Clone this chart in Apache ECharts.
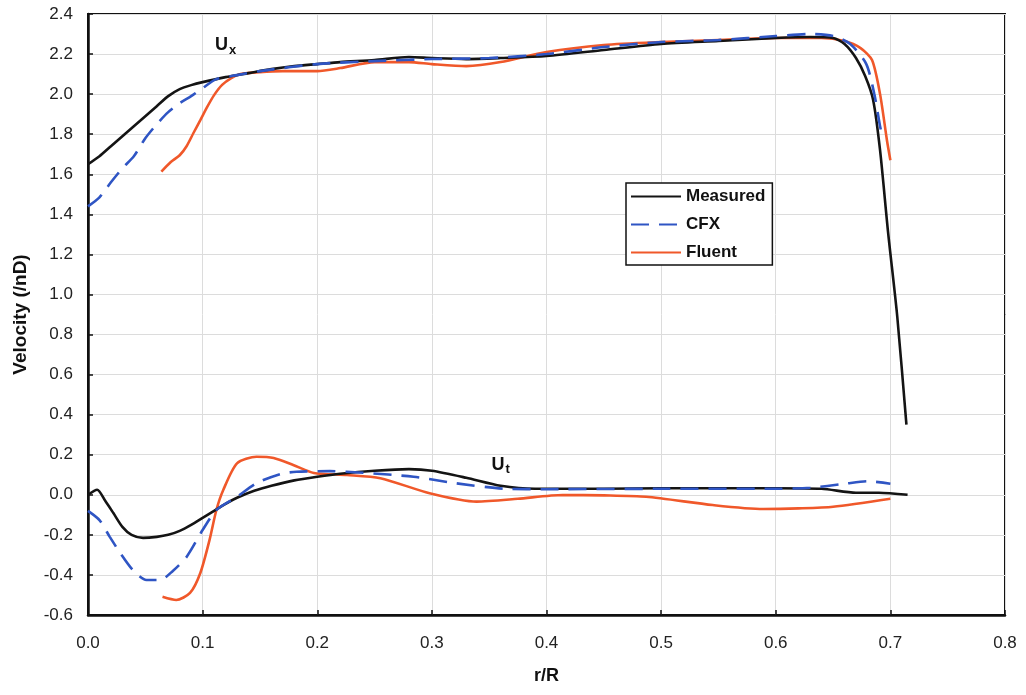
<!DOCTYPE html>
<html><head><meta charset="utf-8">
<script src="https://cdn.jsdelivr.net/npm/echarts@6/dist/echarts.min.js"></script>
<style>html,body{margin:0;padding:0;background:#fff}#c{width:1026px;height:695px}</style>
</head><body><div id="c"></div>
<script>
var xTicks = [0,0.1,0.2,0.3,0.4,0.5,0.6,0.7,0.8];
var yTicks = [-0.6,-0.4,-0.2,0,0.2,0.4,0.6,0.8,1.0,1.2,1.4,1.6,1.8,2.0,2.2,2.4];
var seriesNames = ['Measured','CFX','Fluent'];

var measuredUx = [[0,1.65],[0.01,1.69],[0.02,1.74],[0.03,1.79],[0.04,1.84],[0.05,1.89],[0.06,1.94],[0.07,1.99],[0.08,2.025],[0.09,2.045],[0.1,2.06],[0.12,2.085],[0.14,2.105],[0.16,2.125],[0.18,2.14],[0.2,2.15],[0.22,2.16],[0.25,2.17],[0.28,2.185],[0.3,2.18],[0.33,2.175],[0.36,2.18],[0.4,2.19],[0.45,2.22],[0.5,2.25],[0.55,2.265],[0.6,2.28],[0.63,2.285],[0.65,2.28],[0.66,2.25],[0.67,2.18],[0.678,2.09],[0.685,1.97],[0.691,1.72],[0.698,1.31],[0.706,0.89],[0.714,0.35]];
var cfxUx = [[0,1.44],[0.01,1.485],[0.02,1.56],[0.03,1.63],[0.04,1.69],[0.05,1.78],[0.06,1.85],[0.07,1.91],[0.08,1.955],[0.09,1.99],[0.1,2.03],[0.112,2.075],[0.13,2.095],[0.15,2.115],[0.2,2.15],[0.25,2.165],[0.3,2.175],[0.35,2.18],[0.4,2.2],[0.45,2.235],[0.5,2.26],[0.55,2.27],[0.6,2.29],[0.63,2.3],[0.65,2.29],[0.665,2.25],[0.679,2.15],[0.686,2.0],[0.691,1.84],[0.693,1.79]];
var fluentUx = [[0.064,1.613],[0.072,1.66],[0.08,1.695],[0.086,1.74],[0.092,1.806],[0.098,1.87],[0.104,1.936],[0.11,1.995],[0.117,2.046],[0.125,2.08],[0.133,2.1],[0.15,2.11],[0.17,2.115],[0.2,2.115],[0.22,2.13],[0.25,2.16],[0.28,2.16],[0.3,2.15],[0.33,2.14],[0.36,2.16],[0.4,2.21],[0.45,2.245],[0.5,2.26],[0.55,2.27],[0.6,2.28],[0.64,2.28],[0.66,2.265],[0.674,2.23],[0.684,2.17],[0.691,2.0],[0.697,1.77],[0.7,1.67]];
var measuredUt = [[0,0.0],[0.008,0.025],[0.015,-0.03],[0.022,-0.09],[0.03,-0.16],[0.038,-0.2],[0.048,-0.215],[0.06,-0.21],[0.07,-0.2],[0.08,-0.18],[0.09,-0.15],[0.1,-0.115],[0.11,-0.08],[0.12,-0.045],[0.13,-0.015],[0.145,0.02],[0.16,0.045],[0.18,0.072],[0.2,0.09],[0.22,0.105],[0.25,0.12],[0.28,0.128],[0.3,0.12],[0.33,0.085],[0.36,0.045],[0.39,0.03],[0.45,0.03],[0.5,0.033],[0.55,0.033],[0.6,0.033],[0.64,0.03],[0.67,0.01],[0.69,0.01],[0.715,0.0]];
var cfxUt = [[0,-0.08],[0.01,-0.126],[0.019,-0.21],[0.028,-0.29],[0.039,-0.375],[0.051,-0.425],[0.063,-0.425],[0.074,-0.38],[0.086,-0.31],[0.1,-0.176],[0.112,-0.076],[0.13,-0.01],[0.147,0.058],[0.168,0.104],[0.182,0.115],[0.211,0.118],[0.24,0.11],[0.284,0.09],[0.319,0.059],[0.365,0.03],[0.4,0.028],[0.5,0.03],[0.6,0.03],[0.63,0.035],[0.66,0.055],[0.68,0.068],[0.7,0.055]];
var fluentUt = [[0.065,-0.509],[0.077,-0.525],[0.089,-0.49],[0.098,-0.39],[0.106,-0.226],[0.112,-0.076],[0.118,0.024],[0.13,0.157],[0.147,0.19],[0.162,0.184],[0.179,0.149],[0.197,0.109],[0.226,0.099],[0.255,0.083],[0.298,0.008],[0.339,-0.034],[0.375,-0.02],[0.414,-0.001],[0.45,-0.003],[0.487,-0.01],[0.545,-0.051],[0.589,-0.071],[0.62,-0.068],[0.65,-0.06],[0.7,-0.02]];

var colors = {Measured:'#141414', CFX:'#2f55c4', Fluent:'#f0582a'};
var dashes = {Measured:'solid', CFX:[18,10], Fluent:'solid'};
var font = 'Liberation Sans, Arial, sans-serif';

function mk(name, data, label) {
  var s = {
    name: name, type: 'line', data: data, smooth: 0.25, symbol: 'none',
    lineStyle: {color: colors[name], width: 2.6, type: dashes[name]},
    itemStyle: {color: colors[name]},
    z: name === 'Measured' ? 3 : (name === 'CFX' ? 4 : 2)
  };
  if (label) {
    s.markPoint = {
      symbol: 'circle', symbolSize: 0, silent: true,
      data: [{coord: label.coord, label: {show: true, position: 'inside', formatter: label.text,
        rich: {u: {fontSize: 18, fontWeight: 'bold', color: '#111', fontFamily: font},
               s: {fontSize: 13, fontWeight: 'bold', color: '#111', fontFamily: font, verticalAlign: 'bottom', padding: [10,0,0,1]}}}}]
    };
  }
  return s;
}

var chart = echarts.init(document.getElementById('c'));
chart.setOption({
  backgroundColor: '#fff',
  animation: false,
  grid: {left: 88, right: 21, top: 14, bottom: 80, show: true, borderColor: '#111', borderWidth: 2, backgroundColor: 'transparent'},
  legend: {
    data: seriesNames, orient: 'vertical', left: 626, top: 183,
    itemWidth: 50, itemHeight: 14, itemGap: 11,
    itemStyle: {opacity: 0},
    padding: [5, 7, 4, 4],
    borderColor: '#111', borderWidth: 1.5, backgroundColor: '#fff',
    textStyle: {fontSize: 17, fontWeight: 'bold', color: '#111', fontFamily: font}
  },
  xAxis: {
    type: 'value', min: 0, max: 0.8, interval: 0.1,
    name: 'r/R', nameLocation: 'middle', nameGap: 52,
    nameTextStyle: {fontSize: 18, fontWeight: 'bold', color: '#111', fontFamily: font},
    axisLine: {show: true, onZero: false, lineStyle: {color: '#111', width: 2.5}},
    axisTick: {show: true, inside: true, length: 5, lineStyle: {color: '#111', width: 1.5}},
    axisLabel: {margin: 20, fontSize: 17, color: '#222', fontFamily: font, formatter: function(v){return v.toFixed(1);}},
    splitLine: {show: true, lineStyle: {color: '#dcdcdc', width: 1}}
  },
  yAxis: {
    type: 'value', min: -0.6, max: 2.4, interval: 0.2,
    name: 'Velocity (/nD)', nameLocation: 'middle', nameGap: 58,
    nameTextStyle: {fontSize: 19, fontWeight: 'bold', color: '#111', fontFamily: font, padding: [0, 0, 0, 0]},
    axisLine: {show: true, onZero: false, lineStyle: {color: '#111', width: 2.5}},
    axisTick: {show: true, inside: true, length: 5, lineStyle: {color: '#111', width: 1.5}},
    axisLabel: {margin: 15, fontSize: 17, color: '#222', fontFamily: font, formatter: function(v){return v.toFixed(1);}},
    splitLine: {show: true, lineStyle: {color: '#dcdcdc', width: 1}}
  },
  series: [
    mk('Fluent', fluentUx),
    mk('Measured', measuredUx, {coord: [0.12, 2.245], text: '{u|U}{s|x}'}),
    mk('CFX', cfxUx),
    mk('Fluent', fluentUt),
    mk('Measured', measuredUt, {coord: [0.36, 0.15], text: '{u|U}{s|t}'}),
    mk('CFX', cfxUt)
  ]
});
</script></body></html>
